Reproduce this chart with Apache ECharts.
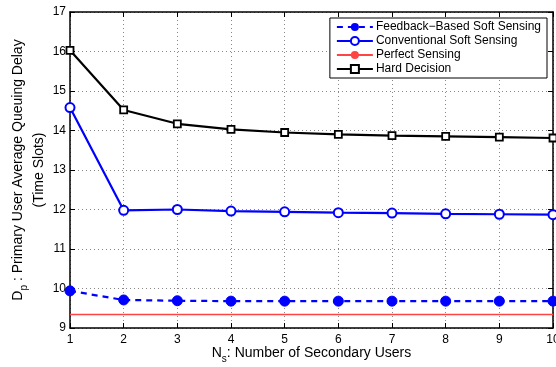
<!DOCTYPE html>
<html>
<head>
<meta charset="utf-8">
<script src="https://cdn.jsdelivr.net/npm/echarts@6/dist/echarts.min.js"></script>
<style>
  html, body { margin: 0; padding: 0; background: #fff; }
  #chart { width: 556px; height: 367px; }
</style>
</head>
<body>
<div id="chart"></div>
<script>
// Number of secondary users N_s
const users = [1, 2, 3, 4, 5, 6, 7, 8, 9, 10];

// Average queuing delay of the primary user (time slots)
const feedbackSoft = [9.94, 9.71, 9.69, 9.68, 9.68, 9.68, 9.68, 9.68, 9.68, 9.68];
const conventionalSoft = [14.58, 11.98, 12.0, 11.96, 11.94, 11.92, 11.91, 11.89, 11.88, 11.87];
const perfectSensing = [9.34, 9.34, 9.34, 9.34, 9.34, 9.34, 9.34, 9.34, 9.34, 9.34];
const hardDecision = [16.03, 14.52, 14.17, 14.03, 13.95, 13.9, 13.87, 13.85, 13.83, 13.81];

const seriesNames = [
  'Feedback\u2212Based Soft Sensing',
  'Conventional Soft Sensing',
  'Perfect Sensing',
  'Hard Decision'
];

const pairs = (ys) => users.map((x, i) => [x, ys[i]]);
const FONT = 'Liberation Sans, Arial, Helvetica, sans-serif';

const chart = echarts.init(document.getElementById('chart'), null, { renderer: 'canvas' });

const gridLine = { show: true, lineStyle: { color: '#888', type: [1, 3], width: 1 } };
const boxLine = { show: true, onZero: false, lineStyle: { color: '#000', width: 1.5 } };
const innerTick = { show: true, inside: true, length: 5, lineStyle: { color: '#000', width: 1 } };

chart.setOption({
  animation: false,
  backgroundColor: '#fff',
  textStyle: { fontFamily: FONT },
  grid: { left: 70, right: 3, top: 12, bottom: 39, containLabel: false, outerBoundsMode: 'none' },
  legend: {
    orient: 'vertical',
    right: 9,
    top: 18,
    padding: [3, 6, 3, 6],
    itemGap: 2,
    itemWidth: 36,
    itemHeight: 10,
    backgroundColor: '#fff',
    borderColor: '#000',
    borderWidth: 1,
    borderRadius: 0,
    textStyle: { fontFamily: FONT, fontSize: 12, color: '#000', padding: [0, 0, 0, -2] },
    data: seriesNames
  },
  xAxis: [
    {
      type: 'value', min: 1, max: 10, interval: 1, position: 'bottom',
      name: '{m|N}{s|s}{m|: Number of Secondary Users}',
      nameLocation: 'middle', nameGap: 17, nameMoveOverlap: false,
      nameTextStyle: {
        rich: {
          m: { fontFamily: FONT, fontSize: 14, color: '#000', lineHeight: 17 },
          s: { fontFamily: FONT, fontSize: 10, color: '#000', lineHeight: 17, padding: [11, 0, 0, 0] }
        }
      },
      axisLine: boxLine, axisTick: innerTick,
      axisLabel: { color: '#000', fontSize: 12, fontFamily: FONT, margin: 6 },
      splitLine: gridLine
    },
    {
      type: 'value', min: 1, max: 10, interval: 1, position: 'top',
      axisLine: boxLine, axisTick: innerTick, axisLabel: { show: false }, splitLine: { show: false }
    }
  ],
  yAxis: [
    {
      type: 'value', min: 9, max: 17, interval: 1, position: 'left',
      name: '{m|D}{s|p}{m| : Primary User Average Queuing Delay}\n{m|(Time Slots)}',
      nameLocation: 'middle', nameGap: 20, nameRotate: 90, nameMoveOverlap: false,
      nameTextStyle: {
        lineHeight: 21,
        rich: {
          m: { fontFamily: FONT, fontSize: 14, color: '#000', lineHeight: 21 },
          s: { fontFamily: FONT, fontSize: 10, color: '#000', lineHeight: 21, padding: [11, 0, 0, 0] }
        }
      },
      axisLine: boxLine, axisTick: innerTick,
      axisLabel: { color: '#000', fontSize: 12, fontFamily: FONT, margin: 4 },
      splitLine: gridLine
    },
    {
      type: 'value', min: 9, max: 17, interval: 1, position: 'right',
      axisLine: boxLine, axisTick: innerTick, axisLabel: { show: false }, splitLine: { show: false }
    }
  ],
  series: [
    {
      name: seriesNames[0], type: 'line', data: pairs(feedbackSoft),
      symbol: 'circle', symbolSize: 10, showAllSymbol: true,
      lineStyle: { color: '#0000ff', width: 2.2, type: [6, 5] },
      itemStyle: { color: '#0000ff', borderColor: '#0000ff' },
      z: 4
    },
    {
      name: seriesNames[1], type: 'line', data: pairs(conventionalSoft),
      symbol: 'circle', symbolSize: 9, showAllSymbol: true,
      lineStyle: { color: '#0000ff', width: 2.2 },
      itemStyle: { color: '#fff', borderColor: '#0000ff', borderWidth: 2 },
      z: 4
    },
    {
      name: seriesNames[2], type: 'line', data: pairs(perfectSensing),
      symbol: 'none',
      lineStyle: { color: '#ff4444', width: 1.5 },
      itemStyle: { color: '#ff4444' },
      z: 3
    },
    {
      name: seriesNames[3], type: 'line', data: pairs(hardDecision),
      symbol: 'rect', symbolSize: 7, showAllSymbol: true,
      lineStyle: { color: '#000', width: 2.2 },
      itemStyle: { color: '#fff', borderColor: '#000', borderWidth: 1.8 },
      z: 4
    }
  ]
});
</script>
</body>
</html>
